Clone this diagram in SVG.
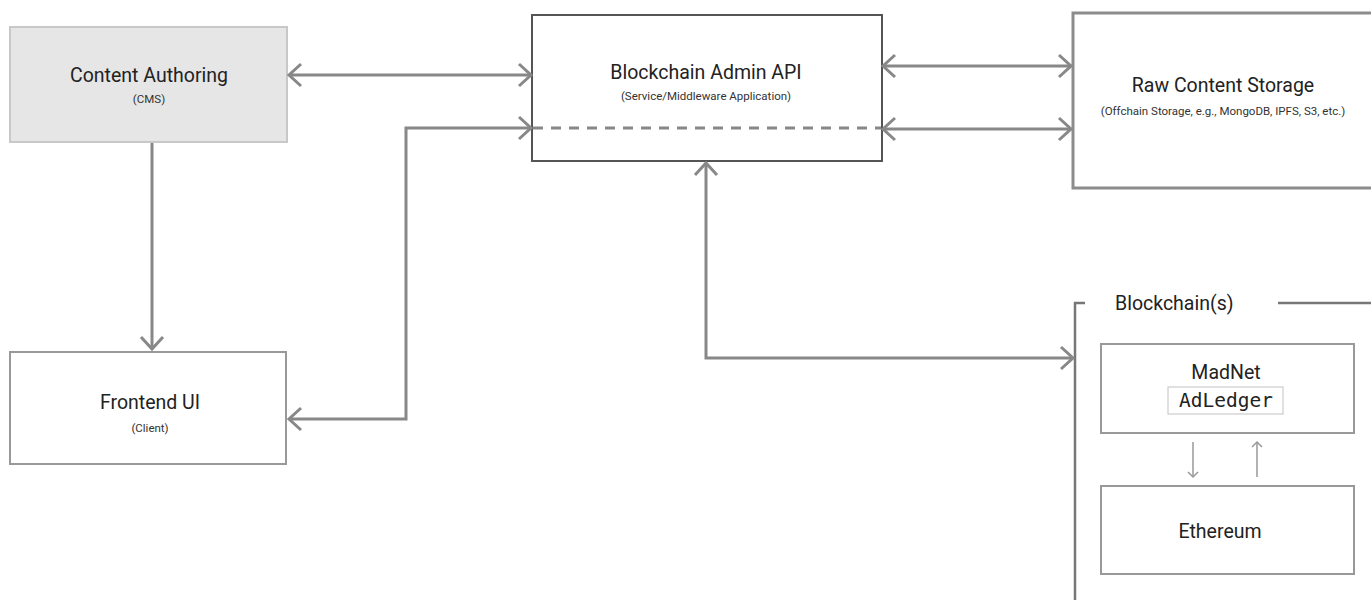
<svg xmlns="http://www.w3.org/2000/svg" width="1371" height="600" viewBox="0 0 1371 600">
  <defs>
    <marker id="arr" viewBox="-16 -14 20 28" markerUnits="userSpaceOnUse" markerWidth="20" markerHeight="28" refX="0" refY="0" orient="auto-start-reverse">
      <path d="M-12,-11 L0,0 L-12,11" fill="none" stroke="#888" stroke-width="3"/>
    </marker>
    <marker id="small" viewBox="-8 -6 10 12" markerUnits="userSpaceOnUse" markerWidth="10" markerHeight="12" refX="0" refY="0" orient="auto">
      <path d="M-5,-5 L0,0 L-5,5" fill="none" stroke="#999" stroke-width="1.5"/>
    </marker>
    <style>
      .title{font-family:Roboto,"Liberation Sans",sans-serif;font-size:19.5px;fill:#222;text-anchor:middle}
      .sub{font-family:Roboto,"Liberation Sans",sans-serif;font-size:11.5px;fill:#333;text-anchor:middle}
      .mono{font-family:"DejaVu Sans Mono","Liberation Mono",monospace;font-size:19.5px;fill:#222;text-anchor:middle}
      .conn{fill:none;stroke:#888;stroke-width:3}
      .box{fill:#fff;stroke:#999;stroke-width:2}
    </style>
  </defs>
  <rect width="1371" height="600" fill="#fff"/>

  <g id="content-authoring">
    <rect x="10" y="27" width="277" height="115" fill="#e6e6e6" stroke="#c8c8c8" stroke-width="2"/>
    <text class="title" x="149" y="82">Content Authoring</text>
    <text class="sub" x="149" y="103">(CMS)</text>
  </g>

  <g id="admin-api">
    <rect x="532" y="15" width="350" height="146" fill="#fff" stroke="#555" stroke-width="2"/>
    <line x1="533" y1="128" x2="881" y2="128" stroke="#888" stroke-width="3" stroke-dasharray="10,8"/>
    <text class="title" x="706" y="79">Blockchain Admin API</text>
    <text class="sub" x="706" y="100">(Service/Middleware Application)</text>
  </g>

  <g id="raw-storage">
    <rect x="1073" y="13" width="320" height="175" fill="#fff" stroke="#8c8c8c" stroke-width="3"/>
    <text class="title" x="1223" y="92">Raw Content Storage</text>
    <text class="sub" x="1223" y="115">(Offchain Storage, e.g., MongoDB, IPFS, S3, etc.)</text>
  </g>

  <g id="frontend-ui">
    <rect x="10" y="352" width="276" height="112" class="box"/>
    <text class="title" x="150" y="409">Frontend UI</text>
    <text class="sub" x="150" y="432">(Client)</text>
  </g>

  <g id="blockchains">
    <path d="M1085,303 H1075 V600" fill="none" stroke="#777" stroke-width="2.5"/>
    <line x1="1278" y1="303" x2="1371" y2="303" stroke="#777" stroke-width="2.5"/>
    <text x="1115" y="310" font-family="Roboto,'Liberation Sans',sans-serif" font-size="19.5" fill="#222">Blockchain(s)</text>
  </g>

  <g id="madnet">
    <rect x="1101" y="344" width="253" height="89" class="box"/>
    <text class="title" x="1226" y="379">MadNet</text>
    <rect x="1168" y="387" width="115" height="27" fill="#fff" stroke="#ccc" stroke-width="1.2"/>
    <text class="mono" x="1226" y="407">AdLedger</text>
  </g>

  <g id="ethereum">
    <rect x="1101" y="486" width="253" height="88" class="box"/>
    <text class="title" x="1220" y="538">Ethereum</text>
  </g>

  <g id="connectors">
    <path class="conn" d="M289,75 H531" marker-start="url(#arr)" marker-end="url(#arr)"/>
    <path class="conn" d="M152,143 V349" marker-end="url(#arr)"/>
    <path class="conn" d="M531,128 H406 V419 H289" marker-start="url(#arr)" marker-end="url(#arr)"/>
    <path class="conn" d="M883,66 H1071" marker-start="url(#arr)" marker-end="url(#arr)"/>
    <path class="conn" d="M883,129 H1071" marker-start="url(#arr)" marker-end="url(#arr)"/>
    <path class="conn" d="M706,163 V358 H1073" marker-start="url(#arr)" marker-end="url(#arr)"/>
    <path d="M1193,442 V477" fill="none" stroke="#999" stroke-width="1.5" marker-end="url(#small)"/>
    <path d="M1257,477 V442" fill="none" stroke="#999" stroke-width="1.5" marker-end="url(#small)"/>
  </g>
</svg>
